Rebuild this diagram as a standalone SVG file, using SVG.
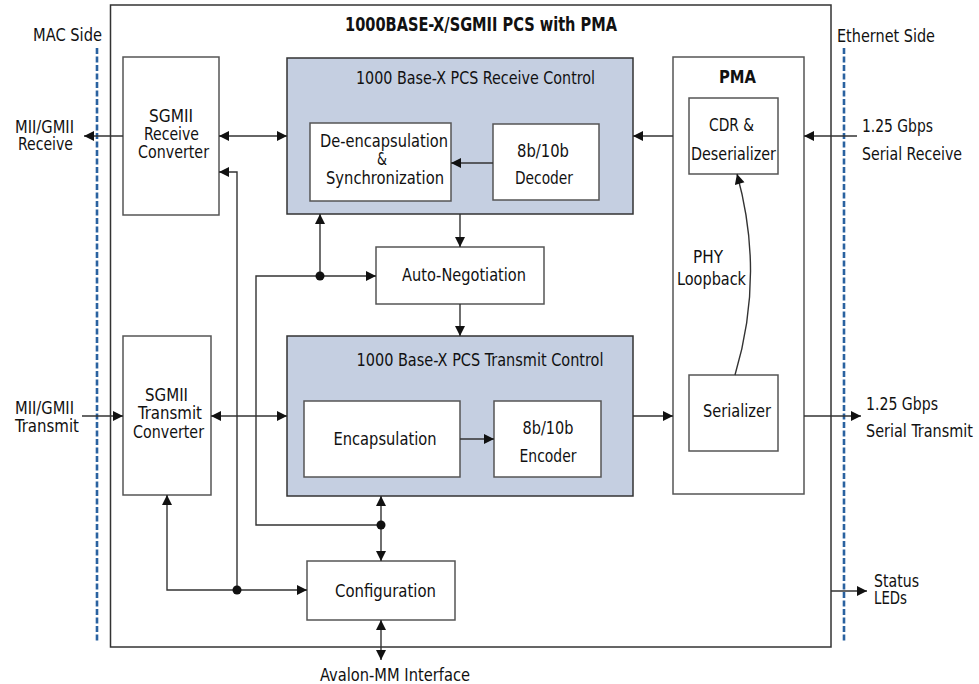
<svg xmlns="http://www.w3.org/2000/svg" width="979" height="684" viewBox="0 0 979 684">
<style>
text{font-family:"DejaVu Sans Condensed","Liberation Sans",sans-serif;font-size:18px;fill:#111;text-anchor:middle}
.b{font-weight:bold}
.s{text-anchor:start}
.box{fill:#fff;stroke:#555;stroke-width:1.5}
.blue{fill:#c5cfe1;stroke:#333;stroke-width:1.5}
.ln{fill:none;stroke:#333;stroke-width:1.4}
.dash{stroke:#2a62a0;stroke-width:2.6;stroke-dasharray:6 2.5;fill:none}
.dot{fill:#111}
</style>
<defs>
<marker id="a" viewBox="0 0 10 10" refX="10" refY="5" markerWidth="11" markerHeight="10" markerUnits="userSpaceOnUse" orient="auto-start-reverse">
<path d="M0,0 L10,5 L0,10 z" fill="#111"/>
</marker>
</defs>
<rect id="main" x="110.5" y="5" width="720.5" height="642" fill="#fff" stroke="#333" stroke-width="1.5"/>
<g id="labels">
<text x="67.5" y="41" textLength="69" lengthAdjust="spacingAndGlyphs">MAC Side</text>
<text x="886" y="42" textLength="98" lengthAdjust="spacingAndGlyphs">Ethernet Side</text>
<text x="481" y="31" class="b" style="font-size:19px" textLength="272" lengthAdjust="spacingAndGlyphs">1000BASE-X/SGMII PCS with PMA</text>
<text x="44.5" y="133" textLength="59" lengthAdjust="spacingAndGlyphs">MII/GMII</text>
<text x="45.5" y="150" textLength="55" lengthAdjust="spacingAndGlyphs">Receive</text>
<text x="44.5" y="414" textLength="59" lengthAdjust="spacingAndGlyphs">MII/GMII</text>
<text x="47" y="432" textLength="64" lengthAdjust="spacingAndGlyphs">Transmit</text>
<text x="862" y="132" class="s" textLength="71" lengthAdjust="spacingAndGlyphs">1.25 Gbps</text>
<text x="862" y="160" class="s" textLength="100" lengthAdjust="spacingAndGlyphs">Serial Receive</text>
<text x="866" y="410" class="s" textLength="72" lengthAdjust="spacingAndGlyphs">1.25 Gbps</text>
<text x="866" y="437" class="s" textLength="107" lengthAdjust="spacingAndGlyphs">Serial Transmit</text>
<text x="874" y="587" class="s" textLength="45" lengthAdjust="spacingAndGlyphs">Status</text>
<text x="874" y="604" class="s" textLength="33" lengthAdjust="spacingAndGlyphs">LEDs</text>
<text x="395" y="681" textLength="150" lengthAdjust="spacingAndGlyphs">Avalon-MM Interface</text>
</g>
<g id="dashes">
<line class="dash" x1="97" y1="48" x2="97" y2="641"/>
<line class="dash" x1="844" y1="48" x2="844" y2="641"/>
</g>
<g id="sgmii-rx">
<rect class="box" x="123" y="57" width="96" height="158"/>
<text x="171" y="122" textLength="44" lengthAdjust="spacingAndGlyphs">SGMII</text>
<text x="171.5" y="140" textLength="55" lengthAdjust="spacingAndGlyphs">Receive</text>
<text x="173.5" y="158" textLength="71" lengthAdjust="spacingAndGlyphs">Converter</text>
</g>
<g id="sgmii-tx">
<rect class="box" x="123" y="336" width="88" height="159"/>
<text x="166.5" y="401" textLength="43" lengthAdjust="spacingAndGlyphs">SGMII</text>
<text x="170" y="419" textLength="64" lengthAdjust="spacingAndGlyphs">Transmit</text>
<text x="168.5" y="438" textLength="71" lengthAdjust="spacingAndGlyphs">Converter</text>
</g>
<g id="rx-control">
<rect class="blue" x="287" y="58" width="346" height="156"/>
<text x="475.5" y="84" textLength="239" lengthAdjust="spacingAndGlyphs">1000 Base-X PCS Receive Control</text>
</g>
<g id="deencap">
<rect class="box" x="310" y="123" width="141" height="78"/>
<text x="384" y="147" textLength="128" lengthAdjust="spacingAndGlyphs">De-encapsulation</text>
<text x="382" y="165" textLength="10" lengthAdjust="spacingAndGlyphs">&amp;</text>
<text x="385" y="184" textLength="118" lengthAdjust="spacingAndGlyphs">Synchronization</text>
</g>
<g id="decoder">
<rect class="box" x="493" y="124" width="106" height="76"/>
<text x="543" y="157" textLength="52" lengthAdjust="spacingAndGlyphs">8b/10b</text>
<text x="544" y="184" textLength="58" lengthAdjust="spacingAndGlyphs">Decoder</text>
</g>
<g id="autoneg">
<rect class="box" x="376" y="247" width="168" height="57"/>
<text x="464" y="281" textLength="124" lengthAdjust="spacingAndGlyphs">Auto-Negotiation</text>
</g>
<g id="tx-control">
<rect class="blue" x="287" y="336" width="346" height="160"/>
<text x="480" y="366" textLength="247" lengthAdjust="spacingAndGlyphs">1000 Base-X PCS Transmit Control</text>
</g>
<g id="encap">
<rect class="box" x="304" y="401" width="156" height="76"/>
<text x="385" y="445" textLength="103" lengthAdjust="spacingAndGlyphs">Encapsulation</text>
</g>
<g id="encoder">
<rect class="box" x="494" y="401" width="107" height="76"/>
<text x="548" y="434" textLength="51" lengthAdjust="spacingAndGlyphs">8b/10b</text>
<text x="548" y="462" textLength="57" lengthAdjust="spacingAndGlyphs">Encoder</text>
</g>
<g id="pma">
<rect class="box" x="673" y="57" width="131" height="437"/>
<text x="737.5" y="83" class="b" textLength="37" lengthAdjust="spacingAndGlyphs">PMA</text>
<text x="708" y="263" textLength="30" lengthAdjust="spacingAndGlyphs">PHY</text>
<text x="711.5" y="285" textLength="69" lengthAdjust="spacingAndGlyphs">Loopback</text>
</g>
<g id="cdr">
<rect class="box" x="689" y="98" width="89" height="76"/>
<text x="731.5" y="131" textLength="45" lengthAdjust="spacingAndGlyphs">CDR &amp;</text>
<text x="733.5" y="160" textLength="85" lengthAdjust="spacingAndGlyphs">Deserializer</text>
</g>
<g id="serializer">
<rect class="box" x="689" y="375" width="89" height="76"/>
<text x="737" y="417" textLength="68" lengthAdjust="spacingAndGlyphs">Serializer</text>
</g>
<g id="config">
<rect class="box" x="307" y="561" width="148" height="59"/>
<text x="385.5" y="597" textLength="101" lengthAdjust="spacingAndGlyphs">Configuration</text>
</g>
<g id="connectors">
<path class="ln" d="M123,136 H84" marker-end="url(#a)"/>
<path class="ln" d="M219,136 H287" marker-start="url(#a)" marker-end="url(#a)"/>
<path class="ln" d="M673,136 H633" marker-end="url(#a)"/>
<path class="ln" d="M857,136 H804" marker-end="url(#a)"/>
<path class="ln" d="M493,163 H451" marker-end="url(#a)"/>
<path class="ln" d="M460,214 V247" marker-end="url(#a)"/>
<path class="ln" d="M460,304 V336" marker-end="url(#a)"/>
<path class="ln" d="M320,276 V214" marker-end="url(#a)"/>
<path class="ln" d="M381,525 H256 V276 H376" marker-end="url(#a)"/>
<path class="ln" d="M211,416 H287" marker-start="url(#a)" marker-end="url(#a)"/>
<path class="ln" d="M82,416 H123" marker-end="url(#a)"/>
<path class="ln" d="M460,439 H494" marker-end="url(#a)"/>
<path class="ln" d="M633,416 H673" marker-end="url(#a)"/>
<path class="ln" d="M804,416 H861" marker-end="url(#a)"/>
<path class="ln" d="M735,375 Q765,275 737,174" marker-end="url(#a)"/>
<path class="ln" d="M381,496 V561" marker-start="url(#a)" marker-end="url(#a)"/>
<path class="ln" d="M381,620 V660" marker-start="url(#a)" marker-end="url(#a)"/>
<path class="ln" d="M167,495 V590 H307" marker-start="url(#a)" marker-end="url(#a)"/>
<path class="ln" d="M237,590 V172 H219" marker-end="url(#a)"/>
<path class="ln" d="M831,591 H867" marker-end="url(#a)"/>
<circle class="dot" cx="320" cy="276" r="4.5"/>
<circle class="dot" cx="381" cy="525" r="4.5"/>
<circle class="dot" cx="237" cy="590" r="4.5"/>
</g>
</svg>
